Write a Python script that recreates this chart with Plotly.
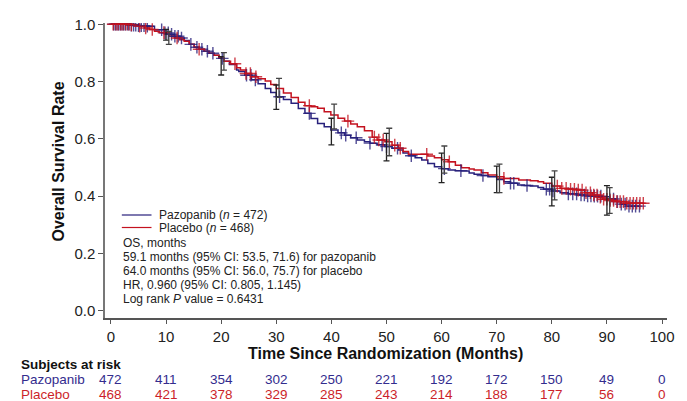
import numpy as np
import plotly.graph_objects as go

# ---------------- data ----------------
paz_time = [0, 3.5, 5.0, 6.1, 7.9, 9.7, 10.5, 11.5, 12.5, 13.3, 14.2, 15.1, 16.0, 16.9, 17.8,
            18.7, 19.6, 20.5, 21.5, 22.8, 23.2, 24.3, 25.5, 26.7, 28.0, 29.0, 30.0, 31.3, 32.7,
            34.0, 35.2, 36.3, 37.5, 38.7, 39.9, 41.2, 42.4, 43.5, 44.7, 46.0, 47.0, 48.3, 49.7,
            51.0, 52.2, 53.0, 54.0, 55.2, 56.4, 57.5, 58.7, 60.0, 61.2, 62.5, 63.6, 65.0, 65.9,
            67.2, 68.4, 70.0, 71.3, 72.5, 73.8, 75.0, 76.1, 77.5, 78.5, 80.0, 81.5, 83.0, 84.6,
            86.0, 87.4, 89.2, 90.5, 91.7, 92.5, 93.5, 95.9]
paz_surv = [1.0, 0.997, 0.995, 0.993, 0.981, 0.970, 0.965, 0.958, 0.952, 0.943, 0.930, 0.920,
            0.913, 0.906, 0.899, 0.892, 0.881, 0.871, 0.860, 0.840, 0.835, 0.822, 0.806, 0.792,
            0.776, 0.762, 0.747, 0.737, 0.724, 0.706, 0.689, 0.671, 0.654, 0.642, 0.631, 0.621,
            0.613, 0.604, 0.596, 0.590, 0.585, 0.579, 0.573, 0.567, 0.561, 0.551, 0.541, 0.534,
            0.526, 0.514, 0.503, 0.496, 0.491, 0.489, 0.488, 0.481, 0.476, 0.472, 0.468, 0.458,
            0.450, 0.445, 0.439, 0.437, 0.435, 0.430, 0.424, 0.418, 0.412, 0.408, 0.404, 0.401,
            0.400, 0.398, 0.390, 0.381, 0.372, 0.365, 0.365]

plc_time = [0, 3.5, 5.0, 6.1, 7.0, 7.9, 8.8, 9.7, 10.5, 11.5, 12.4, 13.3, 14.2, 15.1, 16.0, 16.9,
            17.8, 18.7, 19.6, 20.5, 21.7, 22.8, 23.5, 24.5, 25.5, 26.7, 28.0, 29.0, 30.0, 31.3,
            32.7, 34.0, 35.2, 36.3, 37.5, 38.7, 39.9, 41.2, 42.4, 43.5, 44.7, 46.0, 47.4, 48.3,
            49.7, 51.0, 52.2, 53.0, 54.0, 57.5, 58.7, 60.0, 61.2, 62.5, 63.6, 65.0, 65.9, 67.2,
            68.4, 70.0, 71.3, 74.0, 76.1, 77.5, 78.5, 80.0, 81.5, 83.0, 84.6, 86.0, 87.4, 88.3,
            89.2, 90.5, 91.7, 93.5, 96.8]
plc_surv = [1.0, 0.998, 0.993, 0.987, 0.982, 0.976, 0.971, 0.966, 0.959, 0.952, 0.946, 0.941,
            0.930, 0.920, 0.913, 0.906, 0.899, 0.892, 0.882, 0.871, 0.862, 0.848, 0.840, 0.828,
            0.817, 0.810, 0.802, 0.790, 0.776, 0.760, 0.744, 0.728, 0.716, 0.712, 0.707, 0.695,
            0.683, 0.672, 0.662, 0.652, 0.642, 0.628, 0.606, 0.596, 0.590, 0.578, 0.567, 0.556,
            0.546, 0.540, 0.534, 0.527, 0.520, 0.508, 0.499, 0.495, 0.491, 0.482, 0.474, 0.468,
            0.462, 0.456, 0.454, 0.450, 0.445, 0.435, 0.427, 0.424, 0.421, 0.412, 0.404, 0.396,
            0.389, 0.385, 0.381, 0.375, 0.375]

paz_censor = [0.5, 0.8, 1.1, 1.4, 1.7, 2.0, 2.3, 2.6, 3.0, 3.3, 3.7, 4.1, 4.5, 5.0, 5.5, 6.0, 6.6,
              9.2, 9.8, 10.4, 11.0, 11.6, 12.2, 12.8, 14.5, 15.6, 16.5, 17.5, 18.5, 20.2,
              24.6, 25.4, 26.2, 30.6, 36.0, 41.8, 42.6, 44.5, 47.0, 49.2, 50.0, 52.0, 54.5,
              60.5, 63.5, 67.5, 72.5, 73.1, 75.5, 79.0, 79.6, 80.2, 83.0, 83.8, 84.5, 85.3,
              85.9, 86.5, 87.1, 87.7, 88.3, 88.9, 90.5, 91.2, 91.9, 92.6, 93.3, 94.0, 94.6,
              95.2, 95.9]
plc_censor = [0.4, 0.9, 1.3, 1.8, 2.2, 2.7, 3.2, 3.7, 5.2, 6.3, 7.5, 9.6, 12.0, 16.0, 22.5,
              24.5, 25.3, 26.3, 36.0, 43.0, 47.8, 48.6, 49.4, 51.5, 52.5, 57.3, 61.4, 71.3,
              81.0, 81.8, 82.6, 83.4, 84.1, 84.8, 85.5, 86.2, 87.0, 87.6, 88.2, 88.8, 89.4,
              90.0, 90.6, 91.2, 91.8, 92.4, 93.0, 93.6, 94.2, 94.8, 95.4, 96.0, 96.6]

# 95% CI bars
ci_time = [10, 20, 30, 40, 50, 60, 70, 80, 90]
paz_ci_lo = [0.945, 0.823, 0.703, 0.579, 0.523, 0.447, 0.412, 0.366, 0.334]
paz_ci_hi = [0.982, 0.887, 0.788, 0.672, 0.619, 0.550, 0.505, 0.466, 0.437]
plc_ci_lo = [0.930, 0.840, 0.745, 0.635, 0.541, 0.480, 0.412, 0.387, 0.340]
plc_ci_hi = [0.975, 0.901, 0.811, 0.721, 0.637, 0.575, 0.512, 0.488, 0.430]

risk_time = [0, 10, 20, 30, 40, 50, 60, 70, 80, 90, 100]
paz_risk = [472, 411, 354, 302, 250, 221, 192, 172, 150, 49, 0]
plc_risk = [468, 421, 378, 329, 285, 243, 214, 188, 177, 56, 0]

x_ticks = [0, 10, 20, 30, 40, 50, 60, 70, 80, 90, 100]
y_ticks = [0.0, 0.2, 0.4, 0.6, 0.8, 1.0]

legend_labels = ["Pazopanib (<i>n</i> = 472)", "Placebo (<i>n</i> = 468)"]
stats_lines = ["OS, months",
               "59.1 months (95% CI: 53.5, 71.6) for pazopanib",
               "64.0 months (95% CI: 56.0, 75.7) for placebo",
               "HR, 0.960 (95% CI: 0.805, 1.145)",
               "Log rank <i>P</i> value = 0.6431"]

# ---------------- style ----------------
FONT = "Liberation Sans, Arial, sans-serif"
BLUE = "#28217c"
RED = "#c4121f"
BLUE_T = "#332c8e"
RED_T = "#cc1f2a"
W, H = 687, 401
ML, MR, MT, MB = 105, 14, 23, 83
PW, PH = W - ML - MR, H - MT - MB


def px_x(px):
    return (px - ML) / PW


def px_y(py):
    return (H - MB - py) / PH


def step_lookup(times, surv, t):
    idx = np.searchsorted(np.array(times), np.array(t), side="right") - 1
    return [surv[i] for i in idx]


fig = go.Figure()

for tt, ss, col in [(paz_time, paz_surv, BLUE), (plc_time, plc_surv, RED)]:
    fig.add_trace(go.Scatter(x=tt, y=ss, mode="lines", line=dict(color=col, width=1.5, shape="hv"),
                             showlegend=False, hoverinfo="skip"))

for tt, ss, cc, col in [(paz_time, paz_surv, paz_censor, BLUE), (plc_time, plc_surv, plc_censor, RED)]:
    fig.add_trace(go.Scatter(x=cc, y=step_lookup(tt, ss, cc), mode="markers",
                             marker=dict(symbol="cross-thin", size=9, opacity=0.8,
                                         line=dict(color=col, width=1.4)),
                             showlegend=False, hoverinfo="skip"))

for off, lo, hi, col in [(0.0, paz_ci_lo, paz_ci_hi, "#222222"), (0.5, plc_ci_lo, plc_ci_hi, "#444444")]:
    mid = [(a + b) / 2 for a, b in zip(lo, hi)]
    half = [(b - a) / 2 for a, b in zip(lo, hi)]
    fig.add_trace(go.Scatter(x=[t + off for t in ci_time], y=mid, mode="markers",
                             marker=dict(size=1, color="rgba(0,0,0,0)"),
                             error_y=dict(type="data", array=half, color=col, thickness=1.3, width=3),
                             showlegend=False, hoverinfo="skip"))

annotations = []
shapes = []

# legend lines
for i, (lab, col) in enumerate(zip(legend_labels, [BLUE, RED])):
    py = 215 + i * 12.5
    shapes.append(dict(type="line", xref="paper", yref="paper", x0=px_x(122), x1=px_x(152),
                       y0=px_y(py), y1=px_y(py), line=dict(color=col, width=1.2)))
    annotations.append(dict(xref="paper", yref="paper", x=px_x(158), y=px_y(py), text=lab,
                            showarrow=False, xanchor="left", yanchor="middle",
                            font=dict(family=FONT, size=12, color="#222")))
for i, line in enumerate(stats_lines):
    py = 242.7 + i * 14.1
    annotations.append(dict(xref="paper", yref="paper", x=px_x(121), y=px_y(py), text=line,
                            showarrow=False, xanchor="left", yanchor="middle",
                            font=dict(family=FONT, size=12, color="#222")))

# axis titles
annotations.append(dict(xref="paper", yref="paper", x=px_x(388), y=px_y(353),
                        text="<b>Time Since Randomization (Months)</b>", showarrow=False,
                        xanchor="center", yanchor="middle", font=dict(family=FONT, size=16, color="#111")))
annotations.append(dict(xref="paper", yref="paper", x=px_x(57), y=px_y(162),
                        text="<b>Overall Survival Rate</b>", showarrow=False, textangle=-90,
                        xanchor="center", yanchor="middle", font=dict(family=FONT, size=16, color="#111")))

# risk table
annotations.append(dict(xref="paper", yref="paper", x=px_x(18), y=px_y(364.5),
                        text="<b>Subjects at risk</b>", showarrow=False, xanchor="left", yanchor="middle",
                        font=dict(family=FONT, size=13.5, color="#111")))
for name, vals, col, py in [("Pazopanib", paz_risk, BLUE_T, 379.5), ("Placebo", plc_risk, RED_T, 394.5)]:
    annotations.append(dict(xref="paper", yref="paper", x=px_x(18), y=px_y(py), text=name,
                            showarrow=False, xanchor="left", yanchor="middle",
                            font=dict(family=FONT, size=13.5, color=col)))
    for t, v in zip(risk_time, vals):
        annotations.append(dict(xref="x", yref="paper", x=t, y=px_y(py), text=str(v),
                                showarrow=False, xanchor="center", yanchor="middle",
                                font=dict(family=FONT, size=13.5, color=col)))

fig.update_layout(
    width=W, height=H,
    margin=dict(l=ML, r=MR, t=MT, b=MB, pad=0),
    paper_bgcolor="white", plot_bgcolor="white",
    font=dict(family=FONT, size=15, color="#222"),
    annotations=annotations, shapes=shapes,
    xaxis=dict(range=[-1.08, 100.9], tickvals=x_ticks, ticktext=[str(v) for v in x_ticks],
               showgrid=False, zeroline=False, showline=True, linecolor="#555", linewidth=1.5,
               ticks="outside", ticklen=4, tickwidth=1.2, tickcolor="#555",
               tickfont=dict(family=FONT, size=15, color="#222")),
    yaxis=dict(range=[-0.0255, 1.0045], tickvals=y_ticks, ticktext=["%.1f" % v for v in y_ticks],
               showgrid=False, zeroline=False, showline=True, linecolor="#777", linewidth=1.5,
               ticks="outside", ticklen=5, tickwidth=1.2, tickcolor="#555",
               tickfont=dict(family=FONT, size=15, color="#222")),
)

fig.write_html("out.html", config={"displayModeBar": False},
               post_script="document.body.style.margin='0';document.body.style.overflow='hidden';")
